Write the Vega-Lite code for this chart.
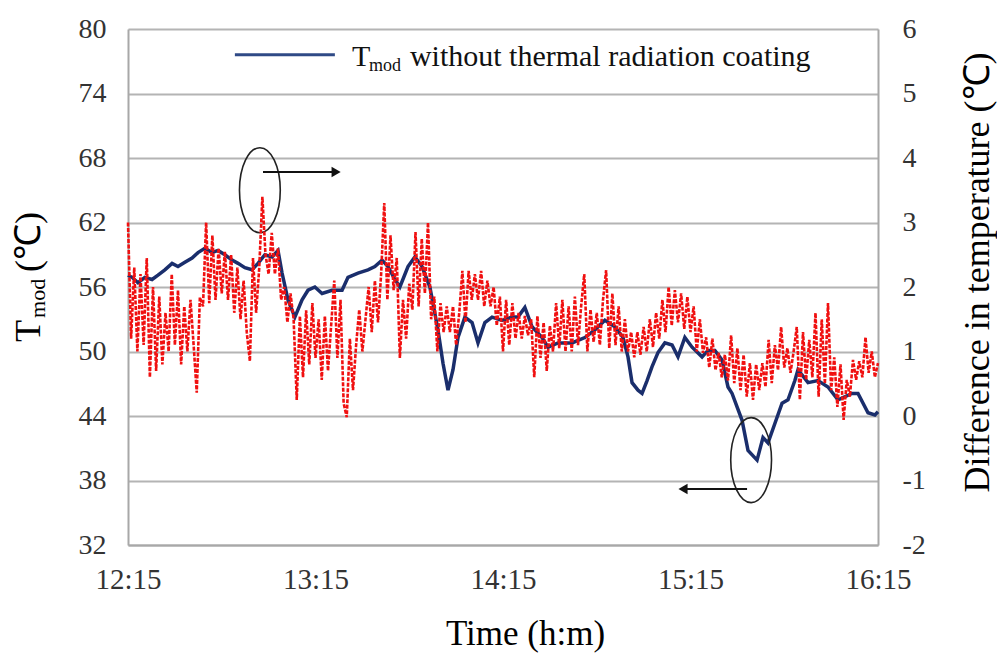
{
"$schema": "https://vega.github.io/schema/vega-lite/v6.json",
"width": 750, "height": 516,
"autosize": "none",
"padding": {"left": 128, "top": 29, "right": 119, "bottom": 110},
"background": "white",
"config": {"view": {"stroke": null}, "font": "Liberation Serif"},
"datasets": {
"blue": [{"m":0,"T":57.1},{"m":1.3,"T":56.9},{"m":3.2,"T":56.4},{"m":5.4,"T":56.9},{"m":7.7,"T":56.7},{"m":9.6,"T":57.1},{"m":11.8,"T":57.6},{"m":14.1,"T":58.2},{"m":16,"T":57.9},{"m":18.2,"T":58.3},{"m":20.5,"T":58.7},{"m":22.4,"T":59.2},{"m":24.6,"T":59.6},{"m":26.9,"T":59.2},{"m":28.8,"T":59.4},{"m":31,"T":59.0},{"m":33.3,"T":58.5},{"m":35.2,"T":58.2},{"m":37.4,"T":57.8},{"m":39.7,"T":57.6},{"m":41.6,"T":58.2},{"m":43.8,"T":59.0},{"m":46.1,"T":58.8},{"m":48,"T":59.4},{"m":49.3,"T":57.3},{"m":51.2,"T":54.8},{"m":53.4,"T":53.2},{"m":55.7,"T":54.8},{"m":57.6,"T":55.7},{"m":59.8,"T":56.0},{"m":62.1,"T":55.4},{"m":65.3,"T":55.7},{"m":68.5,"T":55.7},{"m":70.4,"T":56.9},{"m":73.6,"T":57.3},{"m":76.8,"T":57.6},{"m":79,"T":57.9},{"m":81.3,"T":58.5},{"m":83.2,"T":57.9},{"m":85.4,"T":56.7},{"m":87,"T":56.0},{"m":89.6,"T":57.9},{"m":91.8,"T":58.8},{"m":94.1,"T":57.9},{"m":96.6,"T":56.0},{"m":99.2,"T":52.0},{"m":100.8,"T":48.9},{"m":102.4,"T":46.4},{"m":104,"T":48.3},{"m":105.6,"T":51.3},{"m":107.8,"T":53.2},{"m":110.1,"T":52.7},{"m":112,"T":50.8},{"m":114.2,"T":52.7},{"m":116.5,"T":53.2},{"m":119.7,"T":52.9},{"m":122.9,"T":53.2},{"m":124.8,"T":53.2},{"m":127,"T":54.1},{"m":129.3,"T":52.3},{"m":132.5,"T":51.3},{"m":134.4,"T":50.4},{"m":137.6,"T":50.8},{"m":142.1,"T":50.8},{"m":144.6,"T":51.1},{"m":146.2,"T":51.3},{"m":149.4,"T":52.0},{"m":152.6,"T":52.9},{"m":155.8,"T":52.3},{"m":158.4,"T":51.3},{"m":160,"T":49.5},{"m":161.3,"T":47.1},{"m":163.2,"T":46.4},{"m":164.5,"T":46.1},{"m":166.1,"T":47.3},{"m":167.7,"T":48.6},{"m":169.6,"T":49.9},{"m":171.8,"T":50.8},{"m":174.1,"T":50.6},{"m":176,"T":49.5},{"m":178.2,"T":51.3},{"m":180.5,"T":50.4},{"m":183.7,"T":49.5},{"m":185.6,"T":50.1},{"m":187.8,"T":50.1},{"m":190.1,"T":49.2},{"m":192,"T":46.7},{"m":193.3,"T":46.1},{"m":196.5,"T":43.6},{"m":198.4,"T":40.8},{"m":201.3,"T":39.9},{"m":203.2,"T":42.0},{"m":204.8,"T":41.5},{"m":207,"T":43.3},{"m":209.3,"T":45.2},{"m":211.2,"T":45.5},{"m":213.4,"T":47.3},{"m":214.4,"T":48.3},{"m":217.6,"T":47.1},{"m":220.8,"T":47.3},{"m":224,"T":46.7},{"m":227.2,"T":45.5},{"m":231.7,"T":46.1},{"m":233.6,"T":46.1},{"m":236.8,"T":44.3},{"m":239,"T":44.1},{"m":240,"T":44.4}],
"red": [{"m":0,"D":3.0},{"m":1,"D":1.2},{"m":2,"D":2.3},{"m":3,"D":1.0},{"m":4,"D":2.2},{"m":5,"D":1.1},{"m":6,"D":2.45},{"m":7,"D":0.6},{"m":8,"D":2.0},{"m":9,"D":0.7},{"m":10,"D":1.85},{"m":11,"D":0.8},{"m":12,"D":1.6},{"m":13,"D":1.0},{"m":14,"D":2.2},{"m":15,"D":1.1},{"m":16,"D":1.95},{"m":17,"D":0.8},{"m":18,"D":1.7},{"m":19,"D":1.0},{"m":20,"D":1.8},{"m":21,"D":1.1},{"m":22,"D":0.36},{"m":23,"D":1.84},{"m":24,"D":1.7},{"m":25,"D":3.0},{"m":26,"D":1.75},{"m":27,"D":2.8},{"m":28,"D":1.8},{"m":29,"D":2.6},{"m":30,"D":1.9},{"m":31,"D":2.55},{"m":32,"D":1.8},{"m":33,"D":2.5},{"m":34,"D":1.6},{"m":35,"D":2.3},{"m":36,"D":1.5},{"m":37,"D":2.1},{"m":38,"D":1.3},{"m":39,"D":0.85},{"m":40,"D":2.45},{"m":41,"D":1.6},{"m":42,"D":2.3},{"m":43,"D":3.4},{"m":44,"D":2.5},{"m":45,"D":2.2},{"m":46,"D":2.84},{"m":47,"D":2.2},{"m":48,"D":2.6},{"m":49,"D":1.8},{"m":50,"D":2.0},{"m":51,"D":1.45},{"m":52,"D":1.9},{"m":53,"D":1.5},{"m":54,"D":0.25},{"m":55,"D":1.55},{"m":56,"D":0.6},{"m":57,"D":1.64},{"m":58,"D":0.8},{"m":59,"D":1.75},{"m":60,"D":0.9},{"m":61,"D":1.5},{"m":62,"D":0.56},{"m":63,"D":1.55},{"m":64,"D":0.7},{"m":65,"D":1.4},{"m":66,"D":2.1},{"m":67,"D":0.9},{"m":68,"D":1.8},{"m":69,"D":0.2},{"m":70,"D":-0.02},{"m":71,"D":1.2},{"m":72,"D":0.4},{"m":73,"D":1.1},{"m":74,"D":1.65},{"m":75,"D":1.0},{"m":76,"D":1.5},{"m":77,"D":2.0},{"m":78,"D":1.3},{"m":79,"D":2.1},{"m":80,"D":1.45},{"m":81,"D":2.2},{"m":82,"D":3.3},{"m":83,"D":1.8},{"m":84,"D":2.8},{"m":85,"D":1.95},{"m":86,"D":2.45},{"m":87,"D":0.9},{"m":88,"D":1.8},{"m":89,"D":1.2},{"m":90,"D":2.05},{"m":91,"D":1.65},{"m":92,"D":2.85},{"m":93,"D":1.7},{"m":94,"D":2.75},{"m":95,"D":1.9},{"m":96,"D":3.0},{"m":97,"D":1.5},{"m":98,"D":1.85},{"m":99,"D":1.0},{"m":100,"D":1.75},{"m":101,"D":1.3},{"m":102,"D":1.7},{"m":103,"D":1.3},{"m":104,"D":1.7},{"m":105,"D":1.1},{"m":106,"D":1.6},{"m":107,"D":2.25},{"m":108,"D":1.45},{"m":109,"D":2.25},{"m":110,"D":1.8},{"m":111,"D":2.2},{"m":112,"D":1.8},{"m":113,"D":2.25},{"m":114,"D":1.7},{"m":115,"D":2.1},{"m":116,"D":1.7},{"m":117,"D":2.0},{"m":118,"D":1.4},{"m":119,"D":1.85},{"m":120,"D":1.0},{"m":121,"D":1.8},{"m":122,"D":1.1},{"m":123,"D":1.75},{"m":124,"D":1.2},{"m":125,"D":1.6},{"m":126,"D":1.2},{"m":127,"D":1.55},{"m":128,"D":1.25},{"m":129,"D":1.5},{"m":130,"D":0.6},{"m":131,"D":1.55},{"m":132,"D":0.9},{"m":133,"D":1.45},{"m":134,"D":0.7},{"m":135,"D":1.4},{"m":136,"D":1.0},{"m":137,"D":1.75},{"m":138,"D":1.05},{"m":139,"D":1.8},{"m":140,"D":1.0},{"m":141,"D":1.7},{"m":142,"D":1.0},{"m":143,"D":1.85},{"m":144,"D":1.1},{"m":145,"D":1.7},{"m":146,"D":2.2},{"m":147,"D":1.0},{"m":148,"D":1.65},{"m":149,"D":1.15},{"m":150,"D":1.6},{"m":151,"D":1.1},{"m":152,"D":1.8},{"m":153,"D":2.26},{"m":154,"D":1.05},{"m":155,"D":1.9},{"m":156,"D":1.1},{"m":157,"D":1.7},{"m":158,"D":1.0},{"m":159,"D":1.5},{"m":160,"D":1.0},{"m":161,"D":1.3},{"m":162,"D":0.91},{"m":163,"D":1.3},{"m":164,"D":0.95},{"m":165,"D":1.38},{"m":166,"D":1.0},{"m":167,"D":1.5},{"m":168,"D":1.07},{"m":169,"D":1.6},{"m":170,"D":1.2},{"m":171,"D":1.8},{"m":172,"D":1.3},{"m":173,"D":2.0},{"m":174,"D":1.4},{"m":175,"D":1.95},{"m":176,"D":1.45},{"m":177,"D":1.9},{"m":178,"D":1.35},{"m":179,"D":1.85},{"m":180,"D":1.3},{"m":181,"D":1.7},{"m":182,"D":1.0},{"m":183,"D":1.5},{"m":184,"D":0.98},{"m":185,"D":1.22},{"m":186,"D":0.75},{"m":187,"D":1.2},{"m":188,"D":0.71},{"m":189,"D":0.98},{"m":190,"D":0.6},{"m":191,"D":0.95},{"m":192,"D":0.55},{"m":193,"D":1.25},{"m":194,"D":0.51},{"m":195,"D":1.05},{"m":196,"D":0.4},{"m":197,"D":0.95},{"m":198,"D":0.3},{"m":199,"D":0.82},{"m":200,"D":0.25},{"m":201,"D":0.8},{"m":202,"D":0.4},{"m":203,"D":0.82},{"m":204,"D":0.45},{"m":205,"D":1.18},{"m":206,"D":0.51},{"m":207,"D":1.1},{"m":208,"D":0.71},{"m":209,"D":1.38},{"m":210,"D":0.75},{"m":211,"D":1.05},{"m":212,"D":0.67},{"m":213,"D":1.0},{"m":214,"D":1.38},{"m":215,"D":0.25},{"m":216,"D":1.3},{"m":217,"D":0.56},{"m":218,"D":1.18},{"m":219,"D":0.6},{"m":220,"D":1.6},{"m":221,"D":0.3},{"m":222,"D":1.5},{"m":223,"D":0.5},{"m":224,"D":1.75},{"m":225,"D":0.4},{"m":226,"D":0.91},{"m":227,"D":0.14},{"m":228,"D":0.8},{"m":229,"D":-0.06},{"m":230,"D":0.56},{"m":231,"D":0.3},{"m":232,"D":0.87},{"m":233,"D":0.56},{"m":234,"D":0.85},{"m":235,"D":0.6},{"m":236,"D":1.22},{"m":237,"D":0.67},{"m":238,"D":1.0},{"m":239,"D":0.6},{"m":240,"D":0.82}],
"ann": [
{"kind":"ellipse","m":42.2,"T":65.0},
{"kind":"ellipse","m":199.4,"T":39.9},
{"kind":"arrow","m":43.2,"m2":66.6,"T":66.7},
{"kind":"arrow","m":198.1,"m2":177.6,"T":37.2},
{"kind":"headR","m":66.6,"T":66.7},
{"kind":"headL","m":177.6,"T":37.2},
{"kind":"legline","m":34.2,"m2":66.2,"T":77.6},
{"kind":"big","m":71.7,"T":76.56,"label":"T"},
{"kind":"sub","m":77.1,"T":76.09,"label":"mod"},
{"kind":"big","m":90.2,"T":76.56,"label":"without thermal radiation coating"},
{"kind":"ytitle","m":-28.2,"T":50.88,"label":"T"},
{"kind":"ysub","m":-26.6,"T":53.12,"label":"mod"},
{"kind":"ytitle","m":-28.2,"T":57.4,"label":"(℃)"}
]
},
"layer": [
{
"encoding": {
"x": {"field": "m", "type": "quantitative", "scale": {"domain": [0, 240], "nice": false, "zero": false},
"axis": {"orient": "bottom", "values": [0, 60, 120, 180, 240], "labelExpr": "(12 + floor(datum.value / 60)) + ':15'", "labelFlush": false, "grid": false, "domainColor": "#a8a8a8", "domainWidth": 2, "ticks": false, "labelFontSize": 29, "labelColor": "#333", "labelPadding": 20, "labelFont": "Liberation Serif", "title": "Time (h:m)", "titleFontSize": 35, "titleFont": "Liberation Serif", "titleFontWeight": "normal", "titleColor": "#000", "titleX": 397, "titleY": 99, "titleBaseline": "alphabetic", "titleAlign": "center"}},
"y": {"field": "T", "type": "quantitative", "scale": {"domain": [32, 80], "nice": false, "zero": false},
"axis": {"orient": "left", "values": [32, 38, 44, 50, 56, 62, 68, 74, 80], "grid": true, "gridColor": "#b4b4b4", "gridWidth": 2, "domainColor": "#a8a8a8", "domainWidth": 2, "ticks": false, "labelFontSize": 28, "labelColor": "#333", "labelPadding": 22, "labelFont": "Liberation Serif", "title": null}}
},
"layer": [
{"data": {"name": "blue"}, "mark": {"type": "line", "color": "#1a2e6c", "strokeWidth": 3.5}},
{"data": {"name": "ann"}, "transform": [{"filter": "datum.kind == 'ellipse'"}],
 "mark": {"type": "point", "shape": "M0,-1A0.48,1 0 1,1 0,1A0.48,1 0 1,1 0,-1Z", "size": 7225, "filled": false, "color": "#222", "strokeWidth": 1.6, "opacity": 1}},
{"data": {"name": "ann"}, "transform": [{"filter": "datum.kind == 'arrow'"}],
 "mark": {"type": "rule", "color": "#111", "strokeWidth": 2}, "encoding": {"x2": {"field": "m2"}}},
{"data": {"name": "ann"}, "transform": [{"filter": "datum.kind == 'headR'"}],
 "mark": {"type": "point", "shape": "triangle-right", "size": 110, "filled": true, "color": "#111", "opacity": 1}},
{"data": {"name": "ann"}, "transform": [{"filter": "datum.kind == 'headL'"}],
 "mark": {"type": "point", "shape": "triangle-left", "size": 110, "filled": true, "color": "#111", "opacity": 1}},
{"data": {"name": "ann"}, "transform": [{"filter": "datum.kind == 'legline'"}],
 "mark": {"type": "rule", "color": "#2f4a86", "strokeWidth": 3}, "encoding": {"x2": {"field": "m2"}}},
{"data": {"name": "ann"}, "transform": [{"filter": "datum.kind == 'big'"}],
 "mark": {"type": "text", "align": "left", "baseline": "alphabetic", "fontSize": 30, "font": "Liberation Serif", "color": "#111"}, "encoding": {"text": {"field": "label"}}},
{"data": {"name": "ann"}, "transform": [{"filter": "datum.kind == 'sub'"}],
 "mark": {"type": "text", "align": "left", "baseline": "alphabetic", "fontSize": 18, "font": "Liberation Serif", "color": "#111"}, "encoding": {"text": {"field": "label"}}},
{"data": {"name": "ann"}, "transform": [{"filter": "datum.kind == 'ytitle'"}],
 "mark": {"type": "text", "align": "left", "baseline": "alphabetic", "angle": 270, "fontSize": 36, "font": "Liberation Serif", "color": "#000"}, "encoding": {"text": {"field": "label"}}},
{"data": {"name": "ann"}, "transform": [{"filter": "datum.kind == 'ysub'"}],
 "mark": {"type": "text", "align": "left", "baseline": "alphabetic", "angle": 270, "fontSize": 22, "font": "Liberation Serif", "color": "#000"}, "encoding": {"text": {"field": "label"}}}
]
},
{
"data": {"name": "red"},
"mark": {"type": "line", "color": "#f01010", "strokeWidth": 2.6, "strokeDash": [4, 1.5]},
"encoding": {
"x": {"field": "m", "type": "quantitative", "scale": {"domain": [0, 240], "nice": false, "zero": false},
"axis": {"orient": "bottom", "values": [0, 60, 120, 180, 240], "labelExpr": "(12 + floor(datum.value / 60)) + ':15'", "labelFlush": false, "grid": false, "domainColor": "#a8a8a8", "domainWidth": 2, "ticks": false, "labelFontSize": 29, "labelColor": "#333", "labelPadding": 20, "labelFont": "Liberation Serif", "title": "Time (h:m)", "titleFontSize": 35, "titleFont": "Liberation Serif", "titleFontWeight": "normal", "titleColor": "#000", "titleX": 397, "titleY": 99, "titleBaseline": "alphabetic", "titleAlign": "center"}},
"y": {"field": "D", "type": "quantitative", "scale": {"domain": [-2, 6], "nice": false, "zero": false},
"axis": {"orient": "right", "values": [-2, -1, 0, 1, 2, 3, 4, 5, 6], "labelExpr": "'' + datum.value", "grid": false, "domainColor": "#a8a8a8", "domainWidth": 2, "ticks": false, "labelFontSize": 28, "labelColor": "#333", "labelPadding": 24, "labelFont": "Liberation Serif", "title": "Difference in temperature (℃)", "titleFontSize": 36, "titleFont": "Liberation Serif", "titleFontWeight": "normal", "titleColor": "#000", "titleAngle": 270, "titleX": 110, "titleY": 243, "titleBaseline": "alphabetic", "titleAlign": "center"}}
}
}
],
"resolve": {"scale": {"y": "independent"}}
}
